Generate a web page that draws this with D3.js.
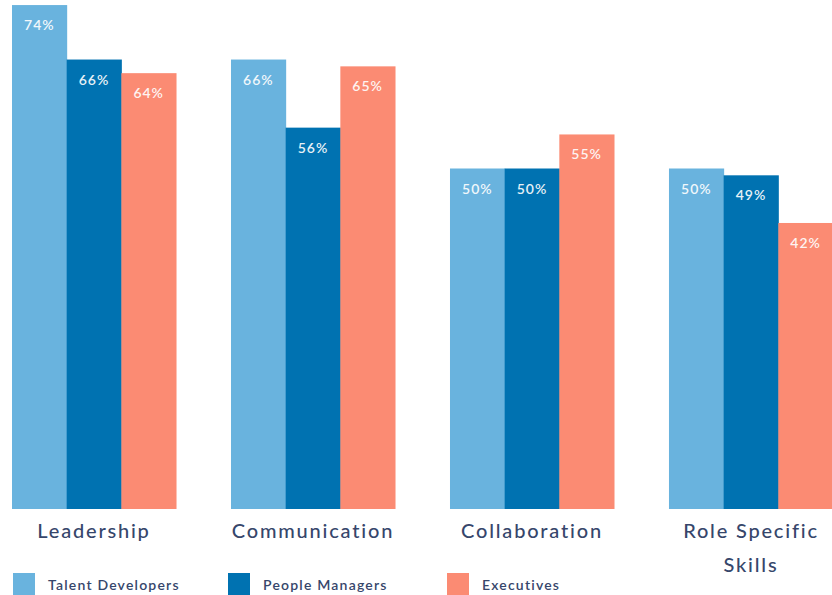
<!DOCTYPE html>
<html>
<head>
<meta charset="utf-8">
<script src="https://cdn.jsdelivr.net/npm/d3@7"></script>
<style>
  body { margin: 0; background: #fff; }
  text { font-family: Lato, "Open Sans", sans-serif; }
</style>
</head>
<body>
<script>
// chart data
var categories = ["Leadership", "Communication", "Collaboration", "Role Specific Skills"];
var series = ["Talent Developers", "People Managers", "Executives"];
var talentDevelopers = [74, 66, 50, 50];
var peopleManagers = [66, 56, 50, 49];
var executives = [64, 65, 55, 42];
var colors = ["#69b3de", "#0072b1", "#fb8b73"];

var width = 832,
    height = 595;

var svg = d3.select("body")
    .append("svg")
    .attr("width", width)
    .attr("height", height);

var values = [talentDevelopers, peopleManagers, executives];

// group positions
var x0 = d3.scaleBand()
    .domain(categories)
    .range([12, 833])
    .paddingInner(0.251)
    .paddingOuter(0);

var x1 = d3.scaleBand()
    .domain(series)
    .range([0, x0.bandwidth()]);

var y = d3.scaleLinear()
    .domain([0, 100])
    .range([509, 509 - 681]);

var groups = svg.selectAll(".group")
    .data(categories)
    .enter()
    .append("g")
    .attr("class", "group")
    .attr("transform", function(d){ return "translate(" + x0(d) + ",0)"; });

groups.each(function(cat, ci){
    var g = d3.select(this);
    var rows = series.map(function(s, si){ return {s: s, si: si, v: values[si][ci]}; });

    g.selectAll("rect")
        .data(rows)
        .enter()
        .append("rect")
        .attr("x", function(d){ return x1(d.s); })
        .attr("width", x1.bandwidth() + 0.5)
        .attr("y", function(d){ return y(d.v); })
        .attr("height", function(d){ return y(0) - y(d.v); })
        .attr("fill", function(d){ return colors[d.si]; });

    g.selectAll(".val")
        .data(rows)
        .enter()
        .append("text")
        .attr("class", "val")
        .attr("x", function(d){ return x1(d.s) + x1.bandwidth() / 2; })
        .attr("y", function(d){ return y(d.v) + 25; })
        .attr("text-anchor", "middle")
        .attr("fill", "#fff")
        .attr("font-size", 14)
        .attr("font-weight", 600)
        .attr("letter-spacing", 1)
        .style("opacity", 0.9)
        .text(function(d){ return d.v + "%"; });
});

// category labels (wrap long ones)
var lines = {"Role Specific Skills": ["Role Specific", "Skills"]};
svg.selectAll(".cat")
    .data(categories)
    .enter()
    .append("text")
    .attr("class", "cat")
    .attr("text-anchor", "middle")
    .attr("fill", "#36466b")
    .attr("font-size", 20)
    .attr("font-weight", 500)
    .attr("letter-spacing", 1.8)
    .each(function(d){
        var t = d3.select(this);
        var parts = lines[d] || [d];
        parts.forEach(function(p, i){
            t.append("tspan")
                .attr("x", x0(d) + x0.bandwidth() / 2)
                .attr("y", 538 + i * 34)
                .text(p);
        });
    });

// legend
var legendX = [13, 228, 447];
var legend = svg.selectAll(".legend")
    .data(series)
    .enter()
    .append("g")
    .attr("class", "legend")
    .attr("transform", function(d, i){ return "translate(" + legendX[i] + ",573)"; });

legend.append("rect")
    .attr("width", 22)
    .attr("height", 22)
    .attr("fill", function(d, i){ return colors[i]; });

legend.append("text")
    .attr("x", 35)
    .attr("y", 17)
    .attr("fill", "#36466b")
    .attr("font-size", 14)
    .attr("font-weight", 600)
    .attr("letter-spacing", 1.2)
    .text(function(d){ return d; });
</script>
</body>
</html>
